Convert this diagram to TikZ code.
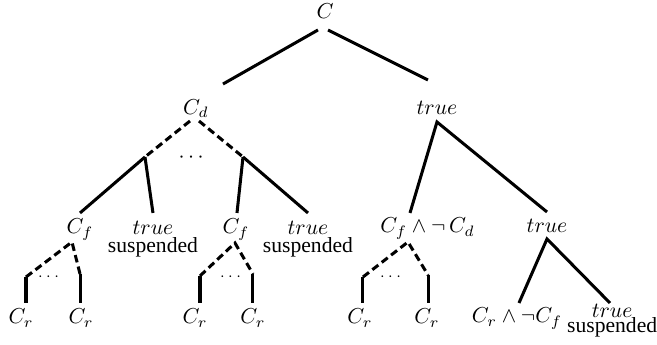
\documentclass[tikz,border=0pt]{standalone}
\usepackage{amsmath}
\usepackage{fontspec}
\setmainfont{Liberation Serif}
\usepackage{tikz}
\usetikzlibrary{positioning}
\tikzset{
  treelabel/.style={inner sep=0pt,anchor=base},
  suspendedlabel/.style={inner sep=0pt,anchor=base,align=center},
  branchdots/.style={inner sep=0pt,anchor=base},
  solidedge/.style={line width=1.4pt},
  dashededge/.style={line width=1.4pt,dash pattern=on 3.5pt off 2pt}
}

\begin{document}
\begin{tikzpicture}[x=1cm,y=1cm]
  \useasboundingbox (0,0) rectangle (10.69,5.613);

  % labels
  \node[treelabel] (root) at (5.288,5.320) {$C$};
  \node[treelabel] (cd) at (3.189,3.758) {$C_d$};
  \node[treelabel] (tr) at (7.110,3.758) {$true$};
  \node[treelabel] (cfa) at (1.302,1.806) {$C_f$};
  \node[suspendedlabel] (susa) at (2.489,1.497) {$true$\\[-3.5pt]suspended};
  \node[treelabel] (cfb) at (3.840,1.806) {$C_f$};
  \node[suspendedlabel] (susb) at (5.011,1.497) {$true$\\[-3.5pt]suspended};
  \node[treelabel] (cfd) at (6.956,1.822) {$C_f \wedge \neg\, C_d$};
  \node[treelabel] (trb) at (8.900,1.822) {$true$};
  \node[treelabel] (cra) at (0.342,0.342) {$C_r$};
  \node[treelabel] (crb) at (1.318,0.342) {$C_r$};
  \node[treelabel] (crc) at (3.173,0.342) {$C_r$};
  \node[treelabel] (crd) at (4.116,0.342) {$C_r$};
  \node[treelabel] (cre) at (5.857,0.342) {$C_r$};
  \node[treelabel] (crf) at (6.947,0.342) {$C_r$};
  \node[treelabel] (crnf) at (8.412,0.358) {$C_r \wedge \neg C_f$};
  \node[suspendedlabel] (susc) at (9.960,0.195) {$true$\\[-5pt]suspended};

  \node[branchdots] (dotsd) at (3.140,2.977) {$\cdots$};
  \node[branchdots,font=\scriptsize] (dotsa) at (0.814,1.041) {$\cdots$};
  \node[branchdots,font=\scriptsize] (dotsb) at (3.775,1.041) {$\cdots$};
  \node[branchdots,font=\scriptsize] (dotsc) at (6.378,1.041) {$\cdots$};

  % edge ends
  \coordinate (rootL) at (5.174,5.125);
  \coordinate (rootR) at (5.337,5.125);
  \coordinate (cdTop) at (3.628,4.246);
  \coordinate (trTop) at (6.964,4.312);

  \coordinate (cdL) at (3.091,3.644);
  \coordinate (cdR) at (3.238,3.644);
  \coordinate (cdJa) at (2.359,3.059);
  \coordinate (cdJb) at (3.954,3.059);
  \coordinate (cfaTop) at (1.302,2.148);
  \coordinate (susaTop) at (2.489,2.148);
  \coordinate (cfbTop) at (3.856,2.148);
  \coordinate (susbTop) at (5.011,2.148);

  \coordinate (trApex) at (7.110,3.628);
  \coordinate (cfdTop) at (6.671,2.148);
  \coordinate (trbTop) at (8.900,2.164);

  \coordinate (cfaApex) at (1.171,1.676);
  \coordinate (cfaJl) at (0.423,1.106);
  \coordinate (cfaJr) at (1.302,1.155);
  \coordinate (craTop) at (0.423,0.683);
  \coordinate (crbTop) at (1.302,0.683);

  \coordinate (cfbApex) at (3.823,1.660);
  \coordinate (cfbJl) at (3.254,1.123);
  \coordinate (cfbJr) at (4.116,1.155);
  \coordinate (crcTop) at (3.254,0.683);
  \coordinate (crdTop) at (4.116,0.683);

  \coordinate (cfdApex) at (6.638,1.676);
  \coordinate (cfdJl) at (5.906,1.106);
  \coordinate (cfdJr) at (6.964,1.139);
  \coordinate (creTop) at (5.906,0.683);
  \coordinate (crfTop) at (6.964,0.683);

  \coordinate (trbApex) at (8.900,1.725);
  \coordinate (crnfTop) at (8.444,0.683);
  \coordinate (suscTop) at (9.925,0.683);

  % top level
  \draw[solidedge] (rootL) -- (cdTop);
  \draw[solidedge] (rootR) -- (trTop);

  % left subtree
  \draw[dashededge] (cdL) -- (cdJa);
  \draw[dashededge] (cdR) -- (cdJb);
  \draw[solidedge] (cdJa) -- (cfaTop);
  \draw[solidedge] (cdJa) -- (susaTop);
  \draw[solidedge] (cdJb) -- (cfbTop);
  \draw[solidedge] (cdJb) -- (susbTop);

  \draw[dashededge] (cfaJl) -- (cfaApex) -- (cfaJr);
  \draw[solidedge] (cfaJl) -- (craTop);
  \draw[solidedge] (cfaJr) -- (crbTop);
  \draw[dashededge] (cfbJl) -- (cfbApex) -- (cfbJr);
  \draw[solidedge] (cfbJl) -- (crcTop);
  \draw[solidedge] (cfbJr) -- (crdTop);

  % right subtree
  \draw[solidedge] (cfdTop) -- (trApex) -- (trbTop);
  \draw[dashededge] (cfdJl) -- (cfdApex) -- (cfdJr);
  \draw[solidedge] (cfdJl) -- (creTop);
  \draw[solidedge] (cfdJr) -- (crfTop);
  \draw[solidedge] (crnfTop) -- (trbApex) -- (suscTop);
\end{tikzpicture}
\end{document}
